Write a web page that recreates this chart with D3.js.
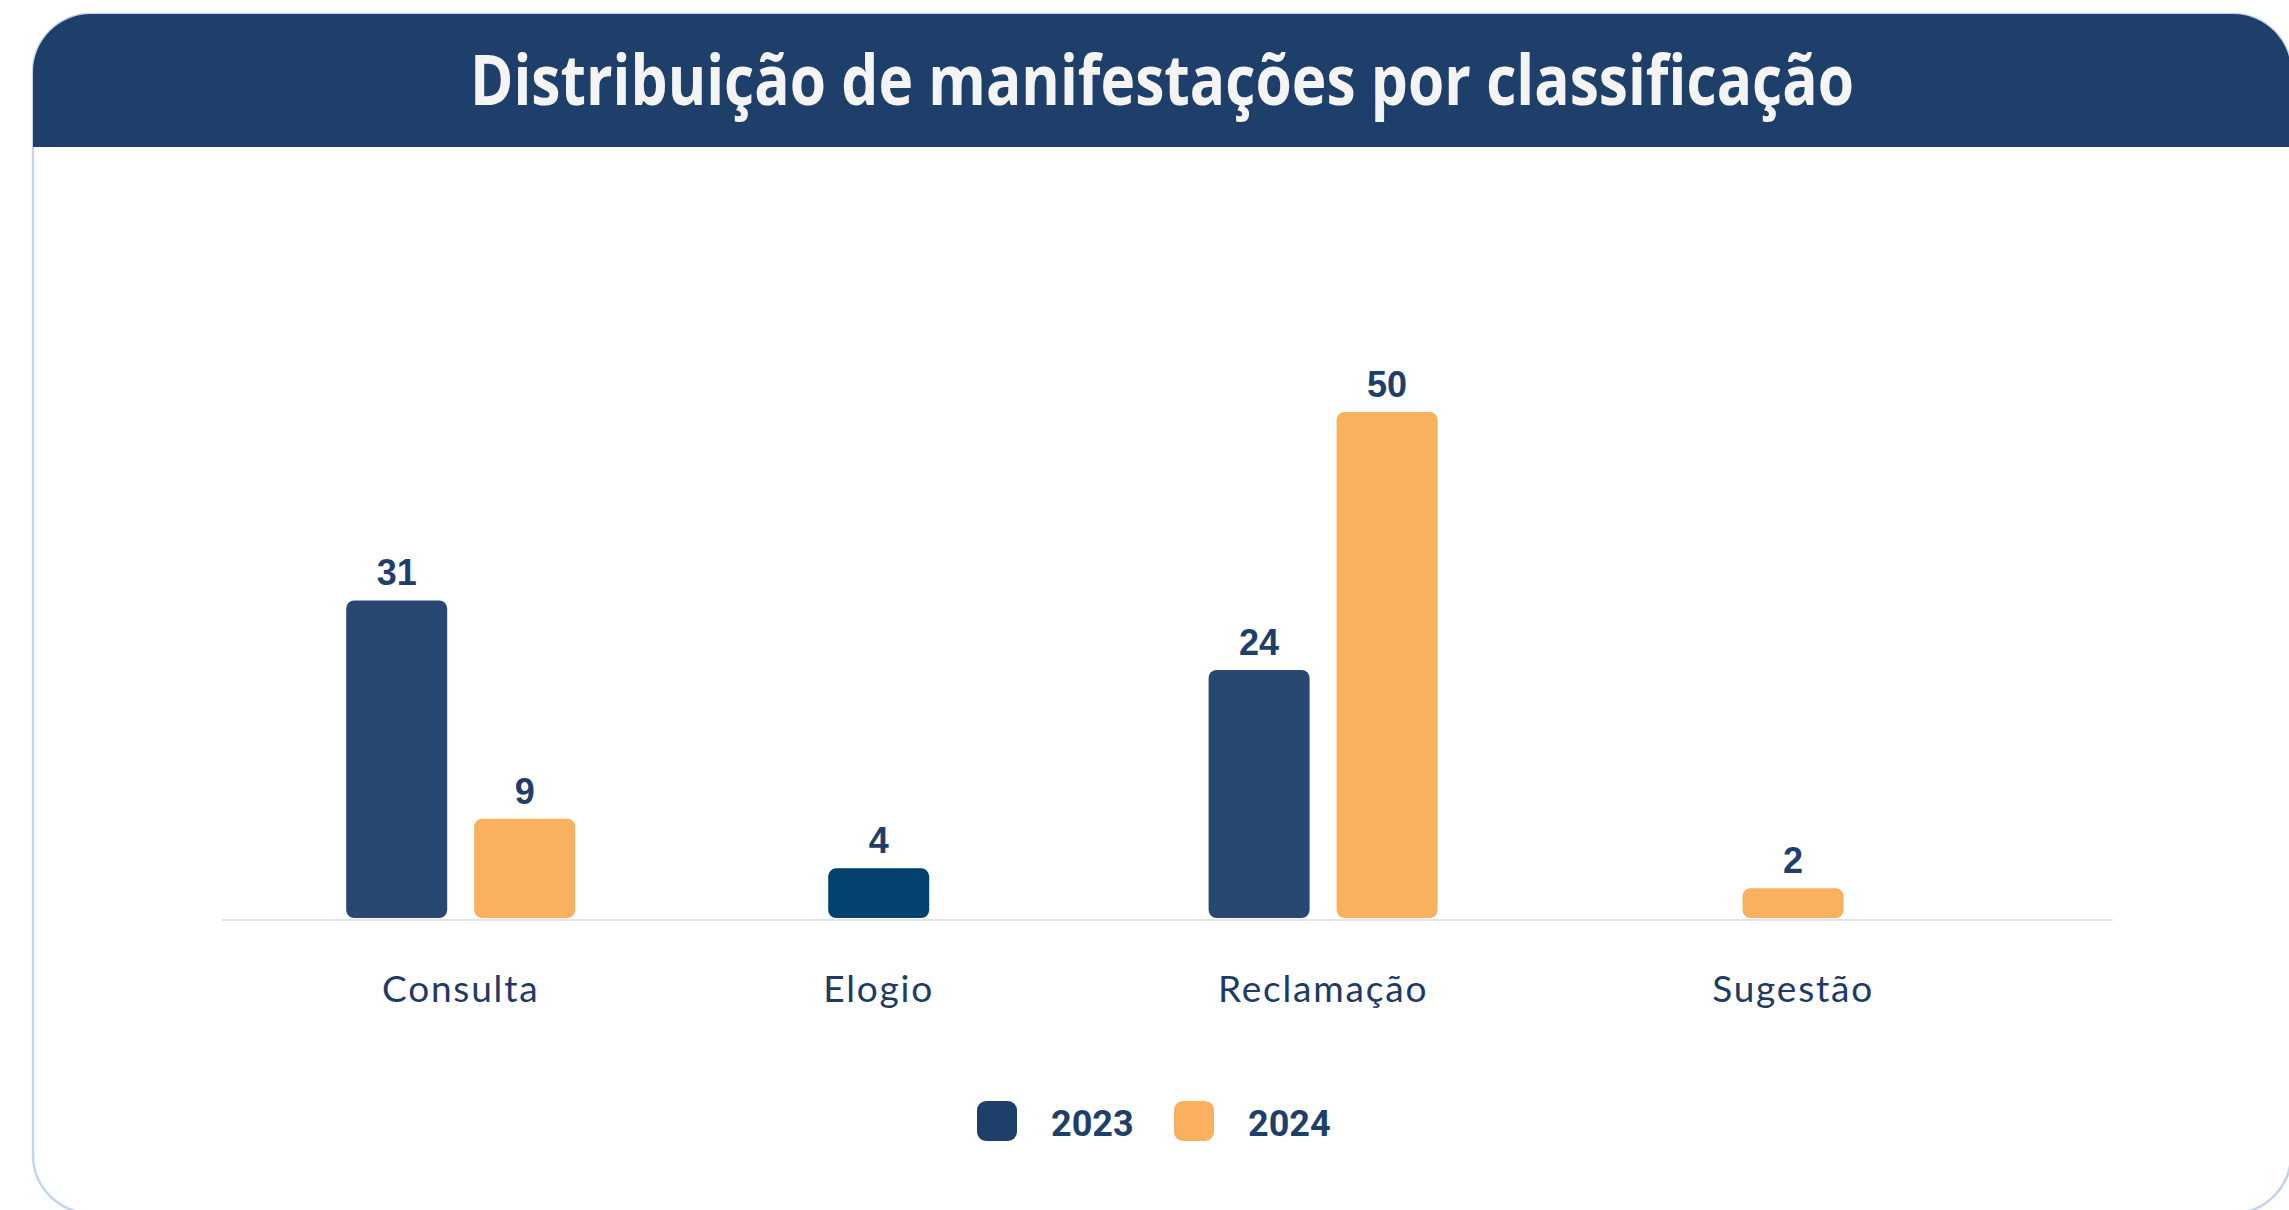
<!DOCTYPE html>
<html>
<head>
<meta charset="utf-8">
<script src="https://cdnjs.cloudflare.com/ajax/libs/d3/7.8.5/d3.min.js"></script>
<style>
body { margin: 0; background: #ffffff; overflow: hidden; }
</style>
</head>
<body>
<div class="chartdiv"></div>
<script>
/*
grouped bar chart: distribuição de manifestações por classificação
*/

// chart data
var chartTitle = "Distribuição de manifestações por classificação";
var categories = ["Consulta", "Elogio", "Reclamação", "Sugestão"];
var years = ["2023", "2024"];
var values2023 = [31, 4, 24, null];
var values2024 = [9, null, 50, 2];

// page size and card
var W = 2289, H = 1210;
var card = {x: 33, y: 14, w: 2258, h: 1199, r: 58};
var headerBottom = 147;

// plot area
var plotLeft = 222, plotRight = 2113;
var baseY = 918, topY = 412;
var labelLeft = 382, labelRight = 1874, labelY = 1002;
var barStep = 128, barWidth = 101, barStub = 10;

var navy = "#1f3f6b";
var colors = {"2023": "#284872", "2024": "#f9b05f"};
var legendColors = {"2023": "#1f3f6b", "2024": "#fab05e"};
var colorOverride = {"Elogio": "#03416f"};

// build rows from the arrays
var rows = categories.map(function(c, i) {
    return {category: c, values: {"2023": values2023[i], "2024": values2024[i]}};
});

var svg = d3.select(".chartdiv")
    .append("svg")
    .attr("width", W)
    .attr("height", H);

// card with rounded corners
svg.append("defs")
    .append("clipPath")
    .attr("id", "cardclip")
    .append("rect")
    .attr("x", card.x)
    .attr("y", card.y)
    .attr("width", card.w)
    .attr("height", card.h)
    .attr("rx", card.r);

svg.append("rect")
    .attr("x", card.x)
    .attr("y", card.y)
    .attr("width", card.w)
    .attr("height", card.h)
    .attr("rx", card.r)
    .style("fill", "#ffffff")
    .style("stroke", "#c3d4ef")
    .style("stroke-width", 2.5);

// header band
svg.append("rect")
    .attr("clip-path", "url(#cardclip)")
    .attr("x", card.x - 2)
    .attr("y", card.y - 2)
    .attr("width", card.w + 4)
    .attr("height", headerBottom - card.y + 2)
    .style("fill", "#1e3f6a");

svg.append("text")
    .attr("x", (card.x + card.x + card.w) / 2)
    .attr("y", 105)
    .attr("text-anchor", "middle")
    .attr("textLength", 1384)
    .attr("lengthAdjust", "spacingAndGlyphs")
    .style("font-family", "'Open Sans', 'DejaVu Sans', sans-serif")
    .style("font-weight", 700)
    .style("font-size", "70px")
    .style("fill", "#f4f4f4")
    .text(chartTitle);

// category labels, measured so they spread across the width
var catLabels = svg.append("g")
    .selectAll("text")
    .data(rows)
    .enter().append("text")
    .attr("y", labelY)
    .attr("text-anchor", "middle")
    .style("font-family", "Lato, 'Open Sans', sans-serif")
    .style("font-size", "37px")
    .style("letter-spacing", "1.8px")
    .style("fill", "#1e3a66")
    .text(function(d) { return d.category; });

var widths = [];
catLabels.each(function() { widths.push(this.getComputedTextLength()); });
var gap = (labelRight - labelLeft - d3.sum(widths)) / (categories.length - 1);
var centers = [];
var pos = labelLeft;
widths.forEach(function(w) {
    centers.push(pos + w / 2);
    pos += w + gap;
});

// x and y scales
var x = d3.scaleOrdinal().domain(categories).range(centers);
var y = d3.scaleLinear()
    .domain([0, d3.max(values2024.concat(values2023))])
    .range([baseY - barStub, topY]);

catLabels.attr("x", function(d) { return x(d.category); });

// baseline
svg.append("line")
    .attr("x1", plotLeft)
    .attr("x2", plotRight)
    .attr("y1", baseY + 2)
    .attr("y2", baseY + 2)
    .style("stroke", "#e3e3e3")
    .style("stroke-width", 2);

// bars, one group per category
var groups = svg.append("g")
    .selectAll("g")
    .data(rows)
    .enter().append("g");

groups.each(function(d) {
    var present = years.filter(function(yr) { return d.values[yr] != null; });
    var pad = (barStep - barWidth) / barStep;
    var inner = d3.scaleBand()
        .domain(present)
        .range([x(d.category) - present.length * barStep / 2, x(d.category) + present.length * barStep / 2])
        .paddingInner(pad)
        .paddingOuter(pad / 2);

    var items = present.map(function(yr) { return {year: yr, value: d.values[yr], category: d.category}; });
    var g = d3.select(this);

    g.selectAll("rect")
        .data(items)
        .enter().append("rect")
        .classed("bar", true)
        .attr("x", function(e) { return inner(e.year); })
        .attr("width", inner.bandwidth())
        .attr("y", function(e) { return y(e.value); })
        .attr("height", function(e) { return baseY - y(e.value); })
        .attr("rx", 8)
        .style("fill", function(e) {
            if (e.year === "2023" && colorOverride[e.category]) {
                return colorOverride[e.category];
            }
            return colors[e.year];
        });

    g.selectAll("text")
        .data(items)
        .enter().append("text")
        .attr("x", function(e) { return inner(e.year) + inner.bandwidth() / 2; })
        .attr("y", function(e) { return y(e.value) - 15; })
        .attr("text-anchor", "middle")
        .style("font-family", "'Liberation Sans', Arial, sans-serif")
        .style("font-weight", 700)
        .style("font-size", "36px")
        .style("fill", navy)
        .text(function(e) { return e.value; });
});

// legend
var legendX = d3.scalePoint().domain(years).range([977, 1174]);

var legend = svg.append("g")
    .selectAll("g")
    .data(years)
    .enter().append("g")
    .attr("transform", function(d) { return "translate(" + legendX(d) + ",1101)"; });

legend.append("rect")
    .attr("width", 40)
    .attr("height", 40)
    .attr("rx", 9)
    .style("fill", function(d) { return legendColors[d]; });

legend.append("text")
    .attr("x", 74)
    .attr("y", 35)
    .style("font-family", "Roboto, sans-serif")
    .style("font-weight", 700)
    .style("font-size", "36px")
    .style("fill", navy)
    .text(function(d) { return d; });
</script>
</body>
</html>
